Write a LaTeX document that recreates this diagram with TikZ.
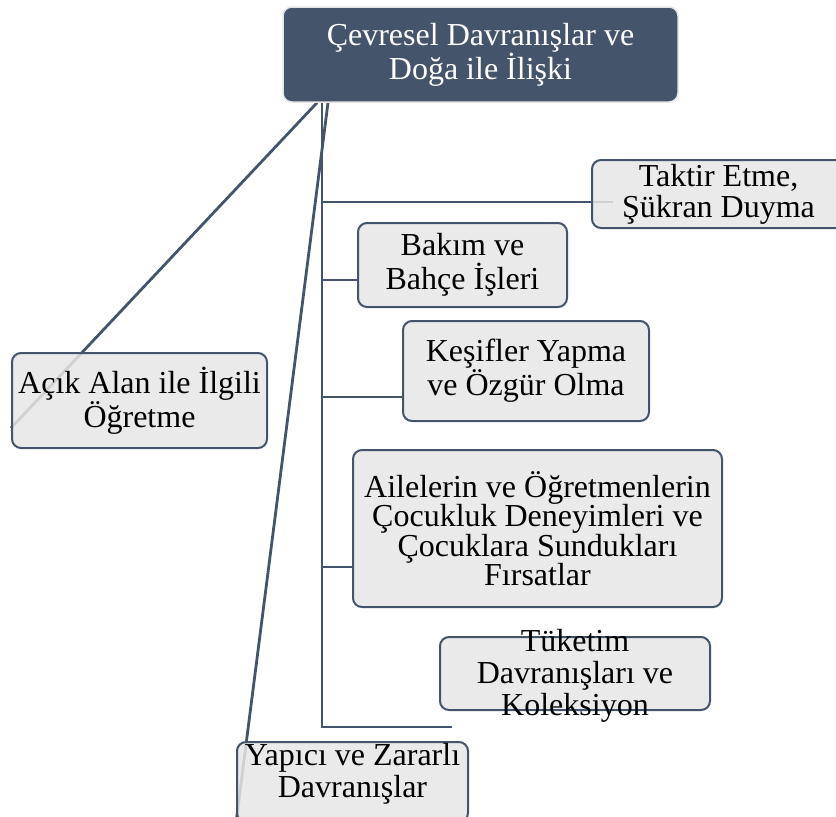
\documentclass[tikz,border=0pt]{standalone}
\usepackage{fontspec}
\setmainfont{Liberation Serif}
\usetikzlibrary{backgrounds}
\definecolor{koyu}{HTML}{44546A}
\definecolor{gri}{HTML}{E7E6E6}
\begin{document}
\begin{tikzpicture}[x=1pt,y=-1pt,font=\fontsize{32}{29}\selectfont]

      \useasboundingbox (0,0) rectangle (836,817);
      \clip (0,0) rectangle (836,817);

      \node[rectangle,rounded corners=9pt,draw=gray!20,line width=1.5pt,fill=koyu,text=white,align=center,
        minimum width=395pt,minimum height=95pt,font=\fontsize{32}{28}\selectfont] (1) at (480.5,54.5)
        {Çevresel Davranışlar ve\\Doğa ile İlişki};

      \begin{scope}[every node/.style={rectangle,rounded corners=9pt,draw=koyu,line width=2pt,fill=gri,
          fill opacity=.85,text opacity=1,align=center,inner sep=0pt}]
        \node[minimum width=253pt,minimum height=68pt,font=\fontsize{32}{31}\selectfont] (2) at (718.5,194) {Taktir Etme,\\Şükran Duyma};
        \node[minimum width=209pt,minimum height=84pt,font=\fontsize{32}{34}\selectfont] (3) at (462.5,265) {Bakım ve\\Bahçe İşleri};
        \node[minimum width=246pt,minimum height=100pt,font=\fontsize{32}{28}\selectfont] (4) at (526,371) {Keşifler Yapma\\ve Özgür Olma};
        \node[minimum width=369pt,minimum height=157pt,font=\fontsize{32}{29.5}\selectfont] (5) at (537.5,528.5)
          {Ailelerin ve Öğretmenlerin\\Çocukluk Deneyimleri ve\\Çocuklara Sundukları\\Fırsatlar};
        \node[minimum width=270pt,minimum height=73pt] (6) at (575,673.5) {};
        \node[minimum width=255pt,minimum height=95pt,font=\fontsize{32}{28}\selectfont] (7) at (139.5,400.5) {Açık Alan ile İlgili\\Öğretme};
        \node[minimum width=231pt,minimum height=80pt] (8) at (352.5,782) {};
      \end{scope}

      \node[align=center,font=\fontsize{32}{32}\selectfont] (6t) at (575,675.5) {Tüketim\\Davranışları ve\\Koleksiyon};
      \node[align=center,font=\fontsize{32}{32}\selectfont] (8t) at (352.5,773.5) {Yapıcı ve Zararlı\\Davranışlar};

      \begin{scope}[on background layer]
        \begin{scope}[color=koyu,line width=2.8pt]
          \coordinate (k) at ([xshift=-158.5pt]1.south);
          \coordinate (s) at (452,727);
          \draw ([xshift=-163.5pt]1.south) -- ([yshift=-27.5pt]7.west);
          \draw ([xshift=-152.5pt]1.south) -- (8.south west);
          \draw (k) |- ([xshift=22pt,yshift=-8pt]2.west);
          \draw (k) |- ([yshift=-15pt]3.west);
          \draw (k) |- ([yshift=-26pt]4.west);
          \draw (k) |- ([yshift=-38.5pt]5.west);
          \draw (k) |- (s);
        \end{scope}
      \end{scope}

    \end{tikzpicture}
\end{document}
